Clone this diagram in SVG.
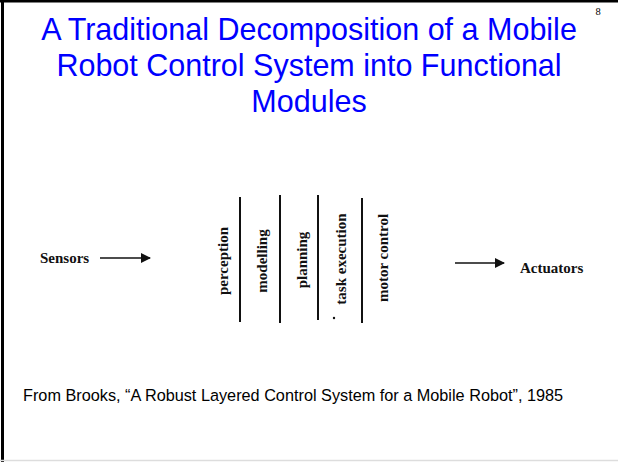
<svg xmlns="http://www.w3.org/2000/svg" width="618" height="462" viewBox="0 0 618 462">
<style>
.title{font-family:"Liberation Sans",Arial,sans-serif;font-size:30.5px;fill:#0000ff;text-anchor:middle}
.lbl{font-family:"Liberation Serif","Times New Roman",serif;font-weight:bold;font-size:15px;fill:#111}
.mod{font-family:"Liberation Serif","Times New Roman",serif;font-weight:bold;font-size:15px;fill:#111;text-anchor:middle}
.foot{font-family:"Liberation Sans",Arial,sans-serif;font-size:16.25px;fill:#000}
.sep{stroke:#111;stroke-width:2}
.conn{stroke:#111;stroke-width:1.5;fill:none}
</style>
<defs>
<marker id="ah" markerWidth="10" markerHeight="10" refX="9" refY="5" orient="auto" markerUnits="userSpaceOnUse">
<path d="M0,0 L10,5 L0,10 Z" fill="#111"/>
</marker>
</defs>
<rect x="0" y="0" width="618" height="462" fill="#fff"/>
<line x1="0" y1="1" x2="618" y2="1" stroke="#000" stroke-width="3"/>
<line x1="2.5" y1="0" x2="2.5" y2="462" stroke="#000" stroke-width="3"/>
<line x1="0" y1="460.5" x2="618" y2="460.5" stroke="#ddd" stroke-width="1.5"/>
<text x="598" y="15" font-family="Liberation Serif,serif" font-size="10.5" fill="#000" text-anchor="middle">8</text>
<g id="title">
<text class="title" x="309" y="40">A Traditional Decomposition of a Mobile</text>
<text class="title" x="309" y="76">Robot Control System into Functional</text>
<text class="title" x="309" y="112">Modules</text>
</g>
<g id="sensors"><text class="lbl" x="40" y="263">Sensors</text></g>
<g id="actuators"><text class="lbl" x="520" y="273">Actuators</text></g>
<g id="modules">
<line class="sep" x1="240" y1="197" x2="240" y2="322"/>
<line class="sep" x1="280" y1="195" x2="280" y2="323"/>
<line class="sep" x1="318" y1="195" x2="318" y2="320"/>
<line class="sep" x1="362" y1="198" x2="362" y2="323"/>
<text class="mod" transform="translate(228,261) rotate(-90)">perception</text>
<text class="mod" transform="translate(267,261) rotate(-90)">modelling</text>
<text class="mod" transform="translate(307,260) rotate(-90)">planning</text>
<text class="mod" transform="translate(346,259) rotate(-90)">task execution</text>
<text class="mod" transform="translate(388,258) rotate(-90)">motor control</text>
<circle cx="334" cy="318" r="1.2" fill="#111"/>
</g>
<g id="connectors">
<line class="conn" x1="100" y1="258" x2="150" y2="258" marker-end="url(#ah)"/>
<line class="conn" x1="455" y1="263" x2="504" y2="263" marker-end="url(#ah)"/>
</g>
<g id="caption"><text class="foot" x="23" y="401">From Brooks, “A Robust Layered Control System for a Mobile Robot”, 1985</text></g>
</svg>
